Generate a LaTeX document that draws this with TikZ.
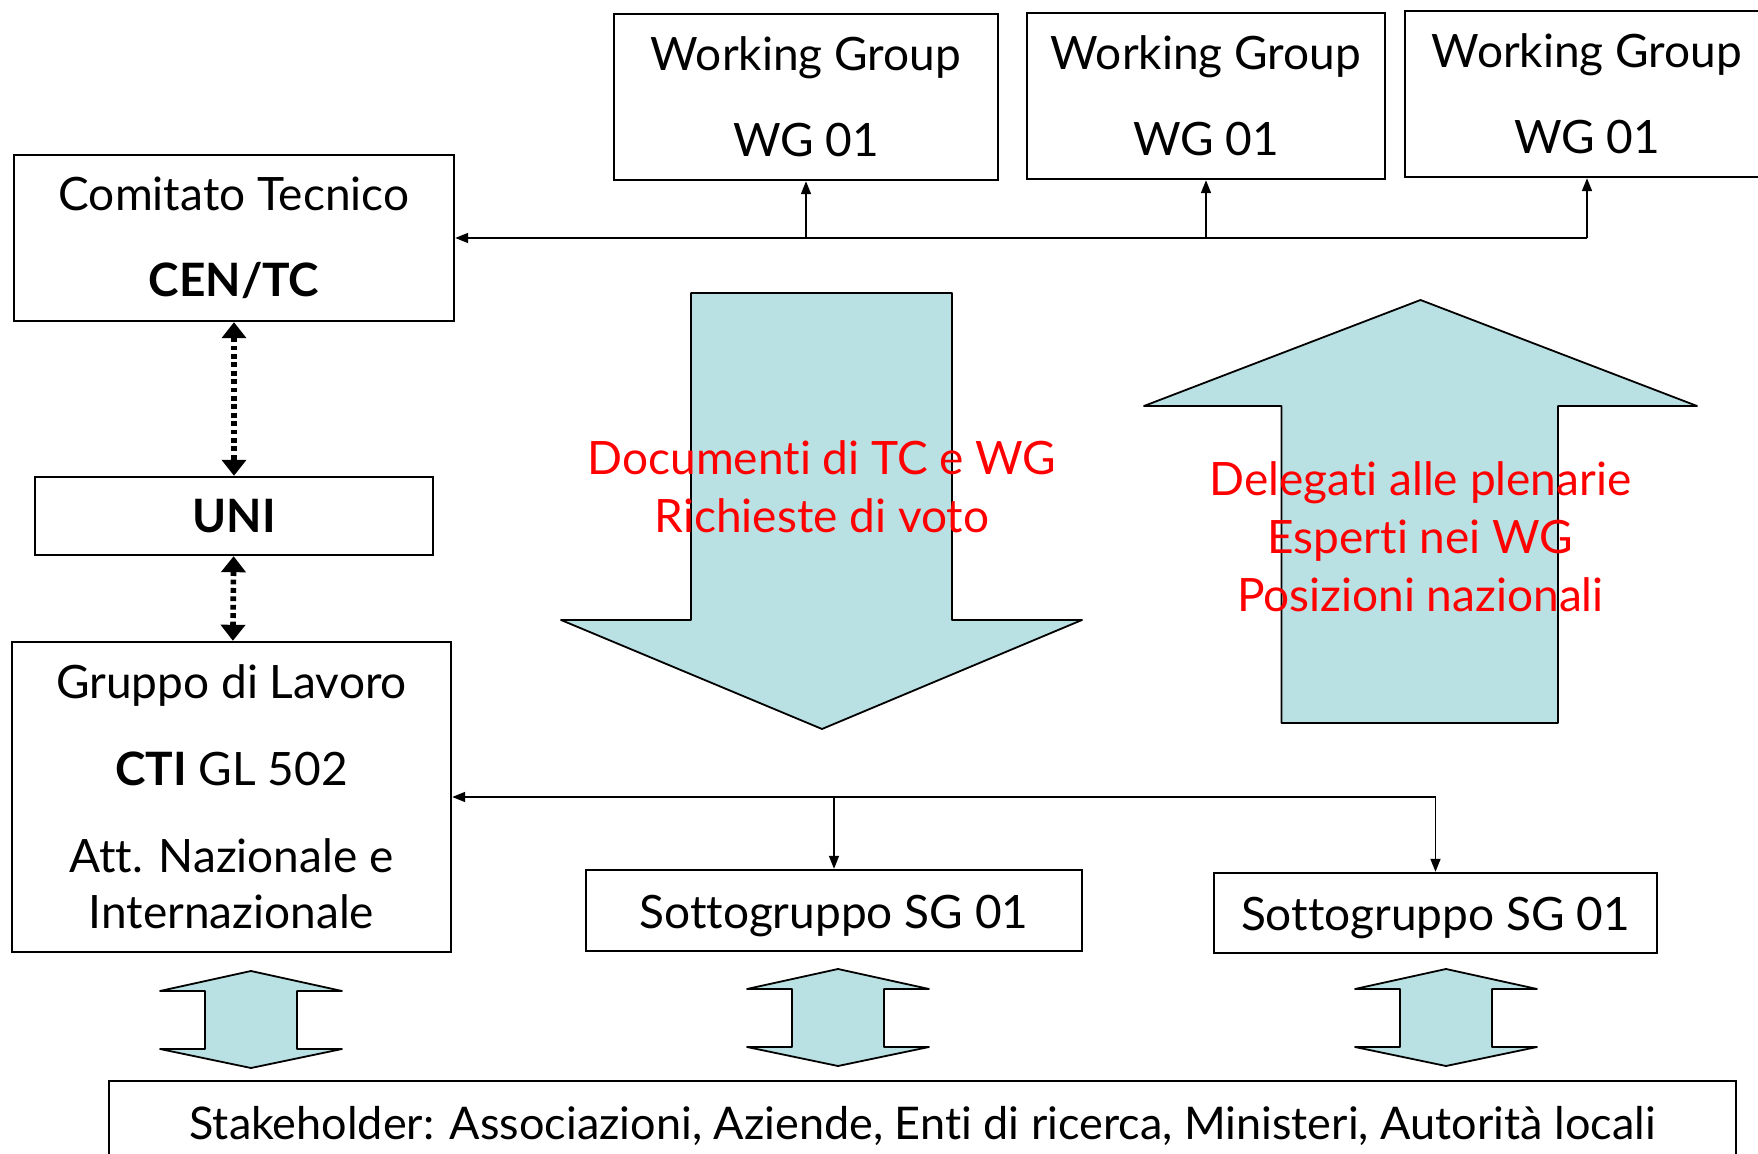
\documentclass[tikz,border=0pt]{standalone}
\usepackage{fontspec}
\setmainfont[Ligatures=NoCommon]{Lato}
\usetikzlibrary{arrows.meta, positioning}

\definecolor{arrowfill}{RGB}{185,224,227}

\begin{document}
\begin{tikzpicture}[x=0.5pt,y=-0.5pt,
    box/.style={draw,line width=1.2pt,align=center,inner sep=0pt,font=\fontsize{23}{28}\selectfont},
    link/.style={-{Triangle[length=6.5pt,width=5pt]},line width=0.8pt},
    dotlink/.style={{Triangle[length=8pt,width=12pt]}-{Triangle[length=8pt,width=12pt]},line width=2.8pt,dash pattern=on 2.4pt off 1.8pt},
    blockarrow/.style={draw,fill=arrowfill,line width=0.9pt,line join=round},
    redtxt/.style={text=red,align=center,font=\fontsize{23}{29}\selectfont}]
    \useasboundingbox (0,0) rectangle (1758,1154);

    % left column
    \node[box,minimum width=220pt,minimum height=83pt] (cen) at (234,238) {Comitato Tecnico\\[15pt]\textbf{CEN/TC}};
    \node[box,minimum width=199pt,minimum height=39pt] (uni) at (234,516) {\textbf{UNI}};
    \node[box,minimum width=219.5pt,minimum height=155pt] (grp) at (231.5,797) {Gruppo di Lavoro\\[15.5pt]\textbf{CTI} GL 502\\[15.5pt]Att. Nazionale e\\Internazionale};

    % working groups
    \node[box,minimum width=192pt,minimum height=83pt] (wg1) at (806,97) {Working Group\\[15pt]WG 01};
    \node[box,minimum width=179pt,minimum height=83pt] (wg2) at (1206,96) {Working Group\\[15pt]WG 01};
    \node[box,minimum width=182pt,minimum height=83pt] (wg3) at (1587,94) {Working Group\\[15pt]WG 01};

    % sottogruppi e stakeholder
    \node[box,minimum width=248pt,minimum height=40.5pt,text height=22.5pt,text depth=4.6pt] (sg1) at (834,910.5) {Sottogruppo SG 01};
    \node[box,minimum width=221.5pt,minimum height=40pt,text height=22.5pt,text depth=4.6pt] (sg2) at (1435.5,913) {Sottogruppo SG 01};
    \node[box,minimum width=813.5pt,minimum height=45pt,font=\fontsize{22.5}{28}\selectfont] (stk) at (922.5,1126) {Stakeholder: Associazioni, Aziende, Enti di ricerca, Ministeri, Autorità locali};

    % connectors
    \draw[link] (wg3.south |- cen.east) -- (cen.east);
    \foreach \w in {wg1,wg2,wg3}
        \draw[link] (\w.south |- cen.east) -- (\w.south);
    \draw[link] (sg2.north |- grp.east) -- (grp.east);
    \foreach \s in {sg1,sg2}
        \draw[link] (\s.north |- grp.east) -- (\s.north);
    \path (cen) edge[dotlink] (uni)
          (uni) edge[dotlink] (grp);

    % block arrows
    \draw[blockarrow] (691,293) -- (952,293) -- (952,620) -- (1082,620) -- (822,729)
        -- (561,620) -- (691,620) -- cycle;
    \draw[blockarrow] (1420.5,300) -- (1697,406) -- (1558,406) -- (1558,723)
        -- (1281.5,723) -- (1281.5,406) -- (1144,406) -- cycle;
    \foreach \cx/\ty in {251/971, 838/969, 1446/969}
        \draw[blockarrow] (\cx,\ty) -- ++(91,20) -- ++(-45,0) -- ++(0,58) -- ++(45,0)
            -- ++(-91,19) -- ++(-91,-19) -- ++(45,0) -- ++(0,-58) -- ++(-45,0) -- cycle;

    \node[redtxt] (docs) at (822,487) {Documenti di TC e WG\\Richieste di voto};
    \node[redtxt] (deleg) at (1420.5,537) {Delegati alle plenarie\\Esperti nei WG\\Posizioni nazionali};
\end{tikzpicture}
\end{document}
